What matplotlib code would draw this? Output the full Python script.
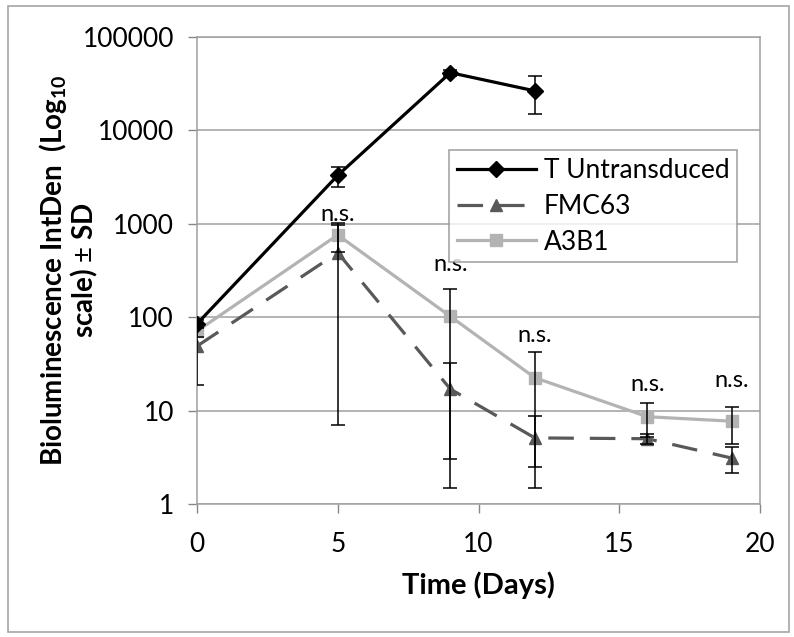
import matplotlib.pyplot as plt
from matplotlib.patches import Rectangle

# data
days_t = [0, 5, 9, 12]
t_mean = [85, 3300, 41500, 26500]
t_sd = [8, 800, 3000, 11500]

days = [0, 5, 9, 12, 16, 19]
fmc_mean = [49, 490, 17, 5.1, 5.0, 3.1]
fmc_sd = [30, 483, 15.5, 3.6, 0.6, 0.95]
a3b1_mean = [71, 760, 102, 22.5, 8.6, 7.7]
a3b1_sd = [10, 260, 99, 20, 3.4, 3.3]

ns_days = [5, 9, 12, 16, 19]
ns_y = [1250, 365, 63, 19, 21]

yticks = [1, 10, 100, 1000, 10000, 100000]
xticks = [0, 5, 10, 15, 20]

plt.rcParams['font.family'] = ['Lato', 'DejaVu Sans']
plt.rcParams['mathtext.fontset'] = 'custom'
plt.rcParams['mathtext.bf'] = 'Lato:bold'
plt.rcParams['mathtext.rm'] = 'Lato'

fig = plt.figure(figsize=(7.94, 6.37), dpi=100)
ax = fig.add_axes([197 / 794, 1 - 504 / 637, 563 / 794, 467 / 637])

# outer chart border
fig.patches.append(Rectangle((8 / 794, 5 / 637), 781 / 794, 626 / 637,
                             transform=fig.transFigure, fill=False,
                             edgecolor='#a6a6a6', linewidth=1.2))

err = dict(fmt='none', ecolor='black', elinewidth=1.1, capsize=5, capthick=1.1)

# error bars first, lines and markers over them
ax.errorbar(days_t, t_mean, yerr=t_sd, zorder=6, **err)
ax.errorbar(days, fmc_mean, yerr=fmc_sd, zorder=6, **err)
ax.errorbar(days, a3b1_mean, yerr=a3b1_sd, zorder=6, **err)

ax.plot(days_t, t_mean, color='black', lw=2.3, marker='D', ms=8,
        label='T Untransduced', zorder=5)
ax.plot(days, fmc_mean, color='#595959', lw=2.3, dashes=(8, 5), marker='^',
        ms=9, label='FMC63', zorder=3)
ax.plot(days, a3b1_mean, color='#b3b3b3', lw=2.3, marker='s', ms=9,
        label='A3B1', zorder=4)

for d, y in zip(ns_days, ns_y):
    ax.text(d, y, 'n.s.', ha='center', va='center', fontsize=17)

ax.set_yscale('log')
ax.set_ylim(1, 100000)
ax.set_xlim(0, 20)
ax.set_yticks(yticks)
ax.set_yticklabels([str(v) for v in yticks])
ax.minorticks_off()
ax.set_xticks(xticks)
ax.tick_params(labelsize=19, length=6.5, color='#868686', width=1)
ax.tick_params(axis='x', pad=14)
ax.tick_params(axis='y', pad=10)
ax.yaxis.grid(True, color='#9f9f9f', lw=1.1)
ax.set_axisbelow(True)
for s in ax.spines.values():
    s.set_color('#9f9f9f')
    s.set_linewidth(1.1)

ax.set_xlabel('Time (Days)', fontsize=21, fontweight='bold', labelpad=10)
ax.set_ylabel('Bioluminescence IntDen  (Log$_{\\mathbf{10}}$\nscale) $\\pm$ SD',
              fontsize=20, fontweight='bold', linespacing=1.0,
              va='center')
ax.yaxis.set_label_coords(-0.228, 0.5)

leg = ax.legend(loc='upper left', bbox_to_anchor=(0.447, 0.757), fontsize=19,
                frameon=True, fancybox=False, edgecolor='#868686',
                handlelength=3.0, borderpad=0.3, labelspacing=0.4,
                handletextpad=0.3, borderaxespad=0)
leg.get_frame().set_linewidth(1.1)

fig.savefig('out.png', dpi=100)
